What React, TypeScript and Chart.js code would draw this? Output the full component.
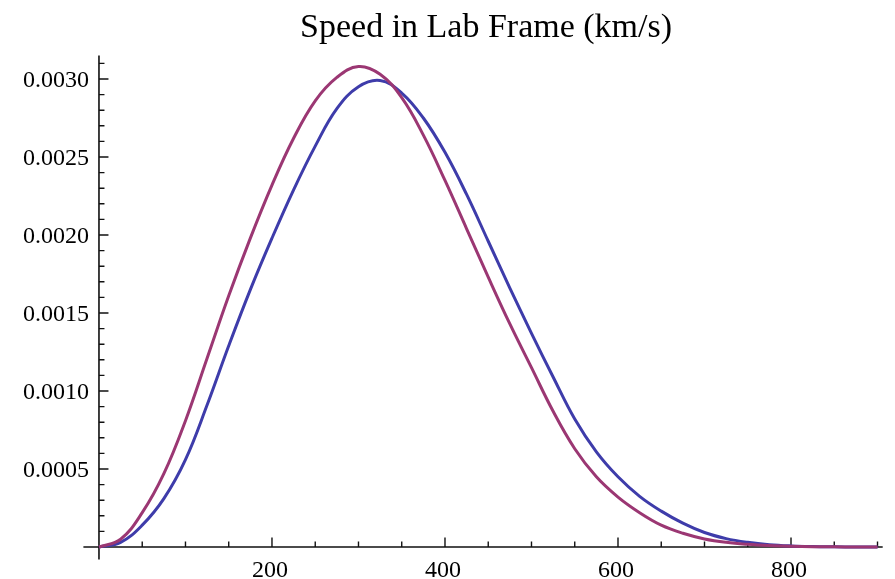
import React, { useEffect, useRef } from "react";
import { Chart, registerables } from "chart.js";

Chart.register(...registerables);

// ---- data ----
const speeds = [
  0, 25, 50, 75, 100, 125, 150, 175, 200, 225, 250, 275, 300, 325, 350, 375, 400, 425,
  450, 475, 500, 525, 550, 575, 600, 625, 650, 675, 700, 725, 750, 775, 800, 825, 850,
  875, 900,
];

// blue curve
const seriesBlue = [
  0, 0.00003, 0.00014, 0.00031, 0.00056, 0.00091, 0.00129, 0.00165, 0.00198, 0.00229,
  0.00257, 0.00281, 0.00295, 0.00299, 0.00291, 0.00275, 0.00253, 0.00226, 0.00196,
  0.00166, 0.00137, 0.00109, 0.00082, 0.00061, 0.00045, 0.000325, 0.00023, 0.000153,
  0.000093, 0.000054, 0.00003, 0.000015, 0.000007, 0.000003, 0.0000013, 0.0000005,
  0.0000002,
];

// magenta curve
const seriesMagenta = [
  0, 0.00005, 0.00022, 0.00047, 0.00081, 0.00121, 0.00161, 0.00198, 0.00232, 0.00262,
  0.00286, 0.00301, 0.00308, 0.00303, 0.00288, 0.00264, 0.00235, 0.00204, 0.00173,
  0.00143, 0.00115, 0.00087, 0.00063, 0.00045, 0.00032, 0.00022, 0.00014, 0.000088,
  0.000052, 0.00003, 0.000017, 0.000009, 0.0000045, 0.000002, 0.000001, 0.0000004,
  0.0000002,
];

const xMajorTicks = [200, 400, 600, 800];
const xMinorTicks = [50, 100, 150, 250, 300, 350, 450, 500, 550, 650, 700, 750, 850, 900];
const yMajorTicks = [0.0005, 0.001, 0.0015, 0.002, 0.0025, 0.003];
const yMinorTicks = [
  0.0001, 0.0002, 0.0003, 0.0004, 0.0006, 0.0007, 0.0008, 0.0009, 0.0011, 0.0012,
  0.0013, 0.0014, 0.0016, 0.0017, 0.0018, 0.0019, 0.0021, 0.0022, 0.0023, 0.0024,
  0.0026, 0.0027, 0.0028, 0.0029, 0.0031,
];
const xTickLabels = ["200", "400", "600", "800"];
const yTickLabels = ["0.0005", "0.0010", "0.0015", "0.0020", "0.0025", "0.0030"];

const titleText = "Speed in Lab Frame (km/s)";

const W = 895;
const H = 579;

const TICK_FONT = '24px "Liberation Serif", "DejaVu Serif", serif';
const TITLE_FONT = '34px "Liberation Serif", "DejaVu Serif", serif';

const axesPlugin = {
  id: "mmaAxes",
  beforeDatasetsDraw(chart: any) {
    const { ctx, chartArea, scales } = chart;
    const xs = scales.x;
    const ys = scales.y;
    const x0 = xs.getPixelForValue(0);
    const y0 = ys.getPixelForValue(0);
    ctx.save();
    ctx.strokeStyle = "#111";
    ctx.lineWidth = 1.6;
    ctx.beginPath();
    ctx.moveTo(chartArea.left, y0);
    ctx.lineTo(chartArea.right, y0);
    ctx.moveTo(x0, chartArea.top);
    ctx.lineTo(x0, chartArea.bottom);
    ctx.stroke();

    ctx.lineWidth = 1.4;
    ctx.beginPath();
    xMajorTicks.forEach((v) => {
      const px = xs.getPixelForValue(v);
      ctx.moveTo(px, y0);
      ctx.lineTo(px, y0 - 9.5);
    });
    xMinorTicks.forEach((v) => {
      const px = xs.getPixelForValue(v);
      ctx.moveTo(px, y0);
      ctx.lineTo(px, y0 - 5.5);
    });
    yMajorTicks.forEach((v) => {
      const py = ys.getPixelForValue(v);
      ctx.moveTo(x0, py);
      ctx.lineTo(x0 + 9.5, py);
    });
    yMinorTicks.forEach((v) => {
      const py = ys.getPixelForValue(v);
      ctx.moveTo(x0, py);
      ctx.lineTo(x0 + 5.5, py);
    });
    ctx.stroke();
    ctx.restore();
  },
  afterDraw(chart: any) {
    const { ctx, chartArea, scales } = chart;
    const xs = scales.x;
    const ys = scales.y;
    const x0 = xs.getPixelForValue(0);
    const y0 = ys.getPixelForValue(0);
    ctx.save();
    ctx.fillStyle = "#000";
    ctx.font = TICK_FONT;
    ctx.textBaseline = "alphabetic";
    ctx.textAlign = "center";
    xMajorTicks.forEach((v, i) => {
      ctx.fillText(xTickLabels[i], xs.getPixelForValue(v) - 2, y0 + 30);
    });
    ctx.textAlign = "right";
    yMajorTicks.forEach((v, i) => {
      ctx.fillText(yTickLabels[i], x0 - 10, ys.getPixelForValue(v) + 8);
    });
    ctx.font = TITLE_FONT;
    ctx.textAlign = "center";
    ctx.fillText(titleText, (chartArea.left + chartArea.right) / 2 + 3, 37);
    ctx.restore();
  },
};

export default function App() {
  const canvasRef = useRef<HTMLCanvasElement | null>(null);

  useEffect(() => {
    const canvas = canvasRef.current;
    if (!canvas) return;
    const chart = new Chart(canvas, {
      type: "line",
      data: {
        datasets: [
          {
            label: "magenta",
            data: speeds.map((s, i) => ({ x: s, y: seriesMagenta[i] })),
            borderColor: "rgb(155, 55, 115)",
            borderWidth: 3,
            pointRadius: 0,
            tension: 0.4,
            fill: false,
            order: 0,
          },
          {
            label: "blue",
            data: speeds.map((s, i) => ({ x: s, y: seriesBlue[i] })),
            borderColor: "rgb(62, 60, 170)",
            borderWidth: 3,
            pointRadius: 0,
            tension: 0.4,
            fill: false,
            order: 1,
          },
        ],
      },
      options: {
        animation: false,
        responsive: false,
        maintainAspectRatio: false,
        layout: { padding: { left: 83.4, right: 12.3, top: 55.6, bottom: 19.5 } },
        plugins: {
          legend: { display: false },
          title: { display: false },
          tooltip: { enabled: false },
        },
        scales: {
          x: { type: "linear", min: -18, max: 906, display: false },
          y: { type: "linear", min: -0.00008, max: 0.00315, display: false },
        },
      },
      plugins: [axesPlugin],
    });
    return () => chart.destroy();
  }, []);

  return (
    <div style={{ position: "fixed", left: 0, top: 0, width: W, height: H, background: "#fff" }}>
      <canvas ref={canvasRef} width={W} height={H} style={{ display: "block" }} />
    </div>
  );
}
